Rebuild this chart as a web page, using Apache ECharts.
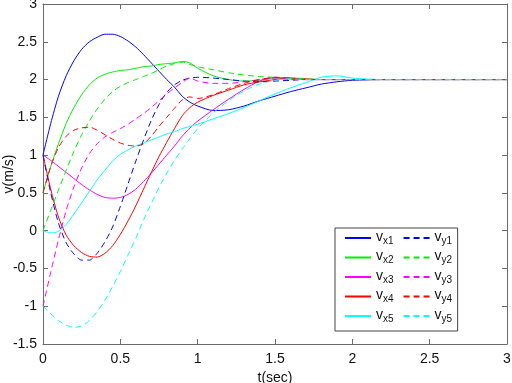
<!DOCTYPE html>
<html>
<head>
<meta charset="utf-8">
<script src="https://cdn.jsdelivr.net/npm/echarts@6/dist/echarts.min.js"></script>
<style>
  html, body { margin: 0; padding: 0; background: #fff; }
  #chart { width: 512px; height: 383px; }
</style>
</head>
<body>
<div id="chart"></div>
<script>
// time samples (sec), shared by all curves
const t = [0, 0.05, 0.1, 0.15, 0.2, 0.25, 0.3, 0.35, 0.4, 0.45, 0.5, 0.55, 0.6, 0.65, 0.7, 0.75,
  0.8, 0.85, 0.9, 0.95, 1.0, 1.1, 1.2, 1.3, 1.4, 1.5, 1.6, 1.7, 1.8, 1.9, 2.0, 2.2, 2.5, 3.0];

// x-velocities
const vx1 = [1.0, 1.42, 1.78, 2.05, 2.25, 2.4, 2.5, 2.56, 2.6, 2.6, 2.57, 2.51, 2.43, 2.33, 2.22, 2.11,
  2.0, 1.9, 1.78, 1.7, 1.65, 1.59, 1.6, 1.65, 1.72, 1.78, 1.84, 1.89, 1.94, 1.97, 1.99, 2.0, 2.0, 2.0];
const vx2 = [0.5, 0.85, 1.15, 1.42, 1.63, 1.8, 1.93, 2.02, 2.07, 2.1, 2.12, 2.13, 2.15, 2.17, 2.18, 2.2,
  2.21, 2.22, 2.24, 2.22, 2.15, 2.05, 2.0, 1.98, 1.99, 2.02, 2.01, 2.0, 2.0, 2.0, 2.0, 2.0, 2.0, 2.0];
const vx3 = [1.0, 0.93, 0.85, 0.77, 0.69, 0.61, 0.54, 0.48, 0.44, 0.43, 0.44, 0.48, 0.55, 0.65, 0.76, 0.88,
  1.0, 1.12, 1.25, 1.36, 1.45, 1.6, 1.74, 1.87, 1.98, 2.03, 2.01, 2.0, 2.0, 2.0, 2.0, 2.0, 2.0, 2.0];
const vx4 = [1.0, 0.55, 0.18, -0.06, -0.2, -0.29, -0.34, -0.35, -0.3, -0.2, -0.05, 0.13, 0.33, 0.55, 0.77, 0.98,
  1.17, 1.35, 1.52, 1.63, 1.7, 1.79, 1.86, 1.93, 1.97, 2.0, 2.02, 2.01, 2.0, 2.0, 2.0, 2.0, 2.0, 2.0];
const vx5 = [0.0, -0.03, -0.01, 0.08, 0.22, 0.37, 0.52, 0.67, 0.8, 0.92, 1.01, 1.07, 1.12, 1.16, 1.2, 1.24,
  1.28, 1.31, 1.35, 1.38, 1.41, 1.48, 1.55, 1.63, 1.72, 1.81, 1.89, 1.96, 2.03, 2.05, 2.02, 2.0, 2.0, 2.0];

// y-velocities
const vy1 = [1.0, 0.5, 0.1, -0.16, -0.31, -0.39, -0.39, -0.3, -0.15, 0.05, 0.32, 0.62, 0.92, 1.2, 1.46, 1.67,
  1.83, 1.93, 1.99, 2.02, 2.03, 2.02, 2.0, 1.98, 1.97, 1.98, 1.99, 2.0, 2.0, 2.0, 2.0, 2.0, 2.0, 2.0];
const vy2 = [0.0, 0.27, 0.54, 0.8, 1.05, 1.27, 1.45, 1.61, 1.74, 1.84, 1.91, 1.96, 2.0, 2.04, 2.08, 2.13,
  2.18, 2.21, 2.23, 2.2, 2.17, 2.13, 2.09, 2.06, 2.04, 2.03, 2.02, 2.01, 2.0, 2.0, 2.0, 2.0, 2.0, 2.0];
const vy3 = [-1.0, -0.55, -0.12, 0.27, 0.58, 0.83, 1.02, 1.15, 1.24, 1.3, 1.35, 1.41, 1.48, 1.55, 1.63, 1.72,
  1.81, 1.89, 1.96, 2.02, 1.98, 1.95, 1.95, 1.97, 2.0, 2.02, 2.0, 2.0, 2.0, 2.0, 2.0, 2.0, 2.0, 2.0];
const vy4 = [0.5, 0.85, 1.1, 1.25, 1.33, 1.36, 1.37, 1.33, 1.27, 1.21, 1.16, 1.13, 1.12, 1.15, 1.25, 1.38,
  1.5, 1.62, 1.73, 1.77, 1.75, 1.8, 1.88, 1.95, 2.0, 2.03, 2.02, 2.0, 2.0, 2.0, 2.0, 2.0, 2.0, 2.0];
const vy5 = [-1.0, -1.1, -1.19, -1.25, -1.28, -1.26, -1.19, -1.07, -0.92, -0.74, -0.54, -0.32, -0.1, 0.14, 0.36, 0.57,
  0.76, 0.93, 1.08, 1.22, 1.35, 1.56, 1.72, 1.85, 1.94, 1.99, 2.01, 2.0, 2.0, 2.0, 2.0, 2.0, 2.0, 2.0];

const names = ["vx1", "vx2", "vx3", "vx4", "vx5", "vy1", "vy2", "vy3", "vy4", "vy5"];
const colors = ["#0000ff", "#00ee00", "#ff00ff", "#ff0000", "#00ffff"];

const xTicks = { min: 0, max: 3, interval: 0.5 };
const yTicks = { min: -1.5, max: 3, interval: 0.5 };

const chart = echarts.init(document.getElementById("chart"));

const pairs = (v) => t.map((x, i) => [x, v[i]]);

function mk(name, color, values, dashed) {
  return {
    name: name,
    type: "line",
    data: pairs(values),
    smooth: 0.25,
    symbol: "none",
    color: color,
    lineStyle: { width: 1, color: color, type: dashed ? [6, 4] : "solid" },
    z: 3,
  };
}

const axisCol = "#6b6b6b";
const font = "Liberation Sans, Arial, sans-serif";

const option = {
  animation: false,
  grid: { left: 43, right: 5, top: 4, bottom: 39, containLabel: false, outerBoundsMode: "none" },
  legend: {
    orient: "vertical",
    left: 335,
    top: 228,
    height: 110,
    padding: [2, 0, 7, 9],
    itemGap: 3.5,
    itemWidth: 26,
    itemHeight: 14,
    borderColor: "#444",
    borderWidth: 1,
    backgroundColor: "#fff",
    itemStyle: { opacity: 0 },
    data: names,
    formatter: (n) => "{a|v}{b|" + n.slice(1) + "}",
    textStyle: {
      fontFamily: font,
      color: "#111",
      rich: {
        a: { fontSize: 14, fontFamily: font, verticalAlign: "top", lineHeight: 16 },
        b: { fontSize: 10, fontFamily: font, verticalAlign: "bottom", lineHeight: 16, padding: [6, 5.5, 0, 0] },
      },
    },
  },
  xAxis: [
    {
      type: "value",
      min: xTicks.min,
      max: xTicks.max,
      interval: xTicks.interval,
      name: "t(sec)",
      nameLocation: "middle",
      nameGap: 27,
      nameMoveOverlap: false,
      nameTextStyle: { fontFamily: font, fontSize: 14, color: "#111", verticalAlign: "top" },
      axisLine: { onZero: false, lineStyle: { color: axisCol } },
      axisTick: { inside: true, length: 5, lineStyle: { color: axisCol } },
      axisLabel: { fontFamily: font, fontSize: 14, color: "#111", margin: 8 },
      splitLine: { show: false },
    },
    {
      type: "value",
      position: "top",
      min: xTicks.min,
      max: xTicks.max,
      interval: xTicks.interval,
      axisLine: { onZero: false, lineStyle: { color: axisCol } },
      axisTick: { inside: true, length: 5, lineStyle: { color: axisCol } },
      axisLabel: { show: false },
      splitLine: { show: false },
    },
  ],
  yAxis: [
    {
      type: "value",
      min: yTicks.min,
      max: yTicks.max,
      interval: yTicks.interval,
      name: "v(m/s)",
      nameLocation: "middle",
      nameGap: 27,
      nameMoveOverlap: false,
      nameRotate: 90,
      nameTextStyle: { fontFamily: font, fontSize: 14, color: "#111", verticalAlign: "bottom" },
      axisLine: { onZero: false, lineStyle: { color: axisCol } },
      axisTick: { inside: true, length: 5, lineStyle: { color: axisCol } },
      axisLabel: { fontFamily: font, fontSize: 14, color: "#111", margin: 6 },
      splitLine: { show: false },
    },
    {
      type: "value",
      position: "right",
      min: yTicks.min,
      max: yTicks.max,
      interval: yTicks.interval,
      axisLine: { onZero: false, lineStyle: { color: axisCol } },
      axisTick: { inside: true, length: 5, lineStyle: { color: axisCol } },
      axisLabel: { show: false },
      splitLine: { show: false },
    },
  ],
  series: [
    mk(names[0], colors[0], vx1, false),
    mk(names[1], colors[1], vx2, false),
    mk(names[2], colors[2], vx3, false),
    mk(names[3], colors[3], vx4, false),
    mk(names[4], colors[4], vx5, false),
    mk(names[5], colors[0], vy1, true),
    mk(names[6], colors[1], vy2, true),
    mk(names[7], colors[2], vy3, true),
    mk(names[8], colors[3], vy4, true),
    mk(names[9], colors[4], vy5, true),
  ],
};

chart.setOption(option);
</script>
</body>
</html>
